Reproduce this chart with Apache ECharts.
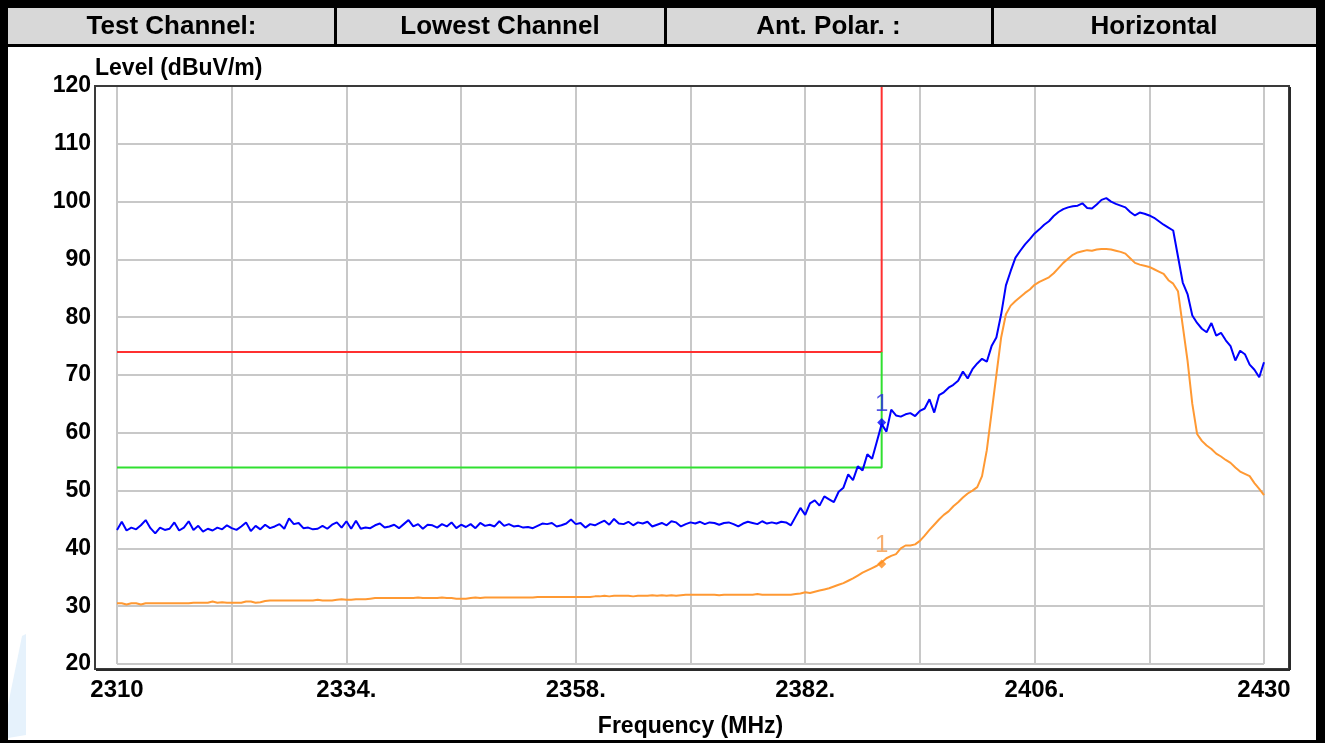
<!DOCTYPE html>
<html>
<head>
<meta charset="utf-8">
<script src="https://cdn.jsdelivr.net/npm/echarts@6/dist/echarts.min.js"></script>
<style>
  html, body { margin: 0; padding: 0; background: #fff; }
  #chart { width: 1325px; height: 743px; }
</style>
</head>
<body>
<div id="chart"></div>
<script>
// header cells
var headerCells = ['Test Channel:', 'Lowest Channel', 'Ant. Polar. :', 'Horizontal'];

// x sampling (MHz)
var freqStart = 2310;
var freqStep = 0.5;

// x tick labels
var xLabelValues = [2310, 2334, 2358, 2382, 2406, 2430];
var xLabelTexts = ['2310', '2334.', '2358.', '2382.', '2406.', '2430'];

// peak trace (blue), dBuV/m, one value every 0.5 MHz from 2310
var peakLevel = [
  43.2, 44.6, 43.1, 43.6, 43.3, 44.0, 44.9, 43.5, 42.6, 43.6,
  43.2, 43.4, 44.5, 43.1, 43.6, 44.7, 43.2, 43.9, 42.9, 43.4,
  43.1, 43.6, 43.3, 44.0, 43.5, 43.2, 43.8, 44.5, 43.0, 43.9,
  43.3, 44.1, 43.5, 43.8, 44.2, 43.4, 45.2, 44.2, 44.4, 43.5,
  43.6, 43.3, 43.4, 43.9, 43.4, 44.1, 44.5, 43.6, 44.7, 43.4,
  44.8, 43.4, 43.6, 43.5, 44.0, 44.3, 43.6, 43.8, 44.1, 43.5,
  44.2, 44.9, 43.8, 44.2, 43.4, 44.1, 44.0, 43.6, 44.2, 43.8,
  44.5, 43.5, 44.1, 43.7, 44.2, 43.5, 44.4, 43.9, 44.1, 43.8,
  44.7, 43.9, 44.2, 43.8, 43.9, 43.6, 43.7, 43.5, 43.9, 44.3,
  44.2, 44.4, 43.8, 44.0, 44.3, 45.0, 44.2, 44.4, 43.6, 44.2,
  44.0, 44.4, 44.8, 44.1, 45.1, 44.3, 44.2, 44.6, 44.0, 44.5,
  44.3, 44.6, 43.8, 44.1, 44.4, 44.0, 44.7, 44.5, 43.8, 44.2,
  44.5, 44.3, 44.6, 44.2, 44.5, 44.4, 44.1, 44.4, 44.5, 44.2,
  43.8, 44.3, 44.6, 44.4, 44.2, 44.7, 44.3, 44.5, 44.3, 44.6,
  44.5, 44.0, 45.5, 47.0, 45.8, 47.8, 48.3, 47.4, 49.0, 48.5,
  48.0, 49.8, 50.5, 52.8, 51.8, 54.2, 53.5, 56.3, 55.5, 58.5,
  61.5, 60.2, 64.0, 63.0, 62.8, 63.2, 63.4, 62.9, 63.8, 64.2,
  65.8, 63.5, 66.5, 67.0, 67.8, 68.3, 69.0, 70.6, 69.4, 71.0,
  72.0, 72.8, 72.3, 75.0, 76.5, 80.5, 85.5, 88.0, 90.3, 91.5,
  92.6, 93.5, 94.5, 95.2, 96.0, 96.6, 97.5, 98.2, 98.7, 99.0,
  99.2, 99.3, 99.7, 98.9, 98.8, 99.5, 100.3, 100.6, 100.0, 99.6,
  99.3, 99.0, 98.2, 97.6, 98.1, 97.9, 97.6, 97.2, 96.6, 96.0,
  95.5, 95.0, 90.5, 86.0, 84.0, 80.3, 79.0, 78.0, 77.4, 79.0,
  76.8, 77.3, 76.0, 75.0, 72.5, 74.2, 73.6, 71.8, 70.9, 69.6,
  72.2
];

// average trace (orange)
var avgLevel = [
  30.5, 30.5, 30.3, 30.5, 30.5, 30.3, 30.5, 30.5, 30.5, 30.5,
  30.5, 30.5, 30.5, 30.5, 30.5, 30.5, 30.6, 30.6, 30.6, 30.6,
  30.8, 30.6, 30.7, 30.6, 30.6, 30.6, 30.6, 30.8, 30.8, 30.6,
  30.7, 30.9, 31.0, 31.0, 31.0, 31.0, 31.0, 31.0, 31.0, 31.0,
  31.0, 31.0, 31.1, 31.0, 31.0, 31.0, 31.1, 31.2, 31.1, 31.1,
  31.2, 31.2, 31.2, 31.3, 31.4, 31.4, 31.4, 31.4, 31.4, 31.4,
  31.4, 31.4, 31.4, 31.5, 31.4, 31.4, 31.4, 31.4, 31.5, 31.4,
  31.4, 31.3, 31.3, 31.3, 31.4, 31.5, 31.4, 31.5, 31.5, 31.5,
  31.5, 31.5, 31.5, 31.5, 31.5, 31.5, 31.5, 31.5, 31.6, 31.6,
  31.6, 31.6, 31.6, 31.6, 31.6, 31.6, 31.6, 31.6, 31.6, 31.6,
  31.7, 31.7, 31.8, 31.7, 31.8, 31.8, 31.8, 31.8, 31.7, 31.8,
  31.8, 31.8, 31.9, 31.8, 31.9, 31.8, 31.9, 31.8, 31.9, 32.0,
  32.0, 32.0, 32.0, 32.0, 32.0, 32.0, 31.9, 32.0, 32.0, 32.0,
  32.0, 32.0, 32.0, 32.0, 32.1, 32.0, 32.0, 32.0, 32.0, 32.0,
  32.0, 32.0, 32.1, 32.2, 32.4, 32.3, 32.5, 32.7, 32.9, 33.1,
  33.4, 33.7, 34.0, 34.4, 34.8, 35.3, 35.8, 36.2, 36.6, 37.0,
  37.6, 38.3, 38.7, 39.0, 40.0, 40.5, 40.5, 40.7, 41.3, 42.2,
  43.2, 44.1, 45.0, 45.8, 46.4, 47.3, 48.0, 48.8, 49.5, 50.0,
  50.6, 52.5, 57.0, 63.5, 70.0, 76.5, 80.5, 82.0, 82.8, 83.5,
  84.2, 84.8, 85.6, 86.1, 86.5, 86.9, 87.6, 88.5, 89.4, 90.1,
  90.8, 91.2, 91.4, 91.6, 91.5, 91.7, 91.8, 91.8, 91.7, 91.5,
  91.3, 91.0, 90.2, 89.4, 89.1, 88.9, 88.7, 88.3, 87.9, 87.5,
  86.4, 85.8, 84.5, 78.5, 72.5, 65.0, 59.8, 58.6, 57.8, 57.2,
  56.4, 55.9, 55.3, 54.8, 54.0, 53.3, 52.9, 52.5, 51.3, 50.3,
  49.2
];

// limit lines
var limitFreq = [2310, 2390, 2390];
var peakLimit = [74, 74, 120];
var avgLimit = [54, 54, 74];

// markers "1"
var markerFreq = 2390;
var peakMarker = 61.8;
var avgMarker = 37.3;

function pairs(xs, ys) {
  return ys.map(function (v, i) { return [xs[i], v]; });
}
var freqs = peakLevel.map(function (_, i) { return freqStart + i * freqStep; });

var W = 1325, H = 743;
var fontFam = 'Arial, "Liberation Sans", sans-serif';

// header table
var cellEdges = [8, 335, 665, 992, 1316];
var header = [
  { type: 'rect', shape: { x: 0, y: 0, width: W, height: H }, style: { fill: '#000' }, z: -10 },
  { type: 'rect', shape: { x: 8, y: 8, width: 1308, height: 732 }, style: { fill: '#fff' }, z: -9 },
  { type: 'rect', shape: { x: 8, y: 8, width: 1308, height: 36 }, style: { fill: '#d8d8d8' }, z: -8 },
  { type: 'rect', shape: { x: 8, y: 44, width: 1308, height: 3 }, style: { fill: '#000' }, z: -7 },
  // faint watermark bit at lower left
  { type: 'polygon', shape: { points: [[8, 705], [22, 636], [26, 634], [26, 735], [8, 738]] }, style: { fill: '#e6f2fc' }, z: -8 },
  // plot frame
  { type: 'rect', shape: { x: 95, y: 86, width: 1194, height: 583 }, style: { fill: 'none', stroke: '#3a3a3a', lineWidth: 2 }, z: 5 },
  { type: 'line', shape: { x1: 96, y1: 670, x2: 1290, y2: 670 }, style: { stroke: '#2a2a2a', lineWidth: 2 }, z: 5 },
  { type: 'line', shape: { x1: 1290, y1: 87, x2: 1290, y2: 670 }, style: { stroke: '#2a2a2a', lineWidth: 2 }, z: 5 },
  {
    type: 'text', left: 95, top: 57, z: 6,
    style: { text: 'Level (dBuV/m)', fill: '#000', font: 'bold 23px ' + fontFam }
  }
];
for (var c = 0; c < headerCells.length; c++) {
  if (c > 0) {
    header.push({ type: 'rect', shape: { x: cellEdges[c] - 1, y: 8, width: 3, height: 37 }, style: { fill: '#000' }, z: -6 });
  }
  header.push({
    type: 'text', z: 6,
    x: (cellEdges[c] + cellEdges[c + 1]) / 2, y: 27,
    style: { text: headerCells[c], fill: '#000', font: 'bold 26px ' + fontFam, align: 'center', verticalAlign: 'middle' }
  });
}

var myChart = echarts.init(document.getElementById('chart'));
var option = {
  animation: false,
  backgroundColor: '#fff',
  grid: { left: 117, right: 61, top: 86, bottom: 78, containLabel: false },
  graphic: header,
  xAxis: {
    type: 'value',
    min: 2310, max: 2430, interval: 12,
    name: 'Frequency (MHz)', nameLocation: 'middle', nameGap: 51,
    nameTextStyle: { color: '#000', fontWeight: 'bold', fontSize: 23, fontFamily: fontFam },
    axisLine: { show: false },
    axisTick: { show: false },
    axisLabel: {
      margin: 14, color: '#000', fontWeight: 'bold', fontSize: 24, fontFamily: fontFam,
      formatter: function (v) {
        var k = xLabelValues.indexOf(Math.round(v));
        return k >= 0 ? xLabelTexts[k] : '';
      }
    },
    splitLine: { show: true, lineStyle: { color: '#c8c8c8', width: 2 } }
  },
  yAxis: {
    type: 'value',
    min: 20, max: 120, interval: 10,
    axisLine: { show: false },
    axisTick: { show: false },
    axisLabel: { margin: 26, color: '#000', fontWeight: 'bold', fontSize: 23, fontFamily: fontFam, padding: [6, 0, 0, 0] },
    splitLine: { show: true, lineStyle: { color: '#c8c8c8', width: 2 } }
  },
  series: [
    {
      type: 'line', data: pairs(limitFreq, peakLimit), showSymbol: false, silent: true,
      lineStyle: { color: '#ff3030', width: 2 }, z: 3
    },
    {
      type: 'line', data: pairs(limitFreq, avgLimit), showSymbol: false, silent: true,
      lineStyle: { color: '#30e030', width: 2 }, z: 3
    },
    {
      type: 'line', data: pairs(freqs, avgLevel), showSymbol: false,
      lineStyle: { color: '#ff9933', width: 2 }, z: 4
    },
    {
      type: 'line', data: pairs(freqs, peakLevel), showSymbol: false,
      lineStyle: { color: '#0000ff', width: 2 }, z: 4
    },
    {
      type: 'scatter', symbol: 'diamond', symbolSize: 9, z: 6,
      data: [[markerFreq, peakMarker]],
      itemStyle: { color: '#0000ff' },
      label: { show: true, formatter: '1', position: 'top', distance: 2, color: '#2a2ae0', fontSize: 24, fontFamily: fontFam }
    },
    {
      type: 'scatter', symbol: 'diamond', symbolSize: 9, z: 6,
      data: [[markerFreq, avgMarker]],
      itemStyle: { color: '#ff8c1a' },
      label: { show: true, formatter: '1', position: 'top', distance: 2, color: '#f59a4a', fontSize: 24, fontFamily: fontFam }
    }
  ]
};
myChart.setOption(option);
</script>
</body>
</html>
